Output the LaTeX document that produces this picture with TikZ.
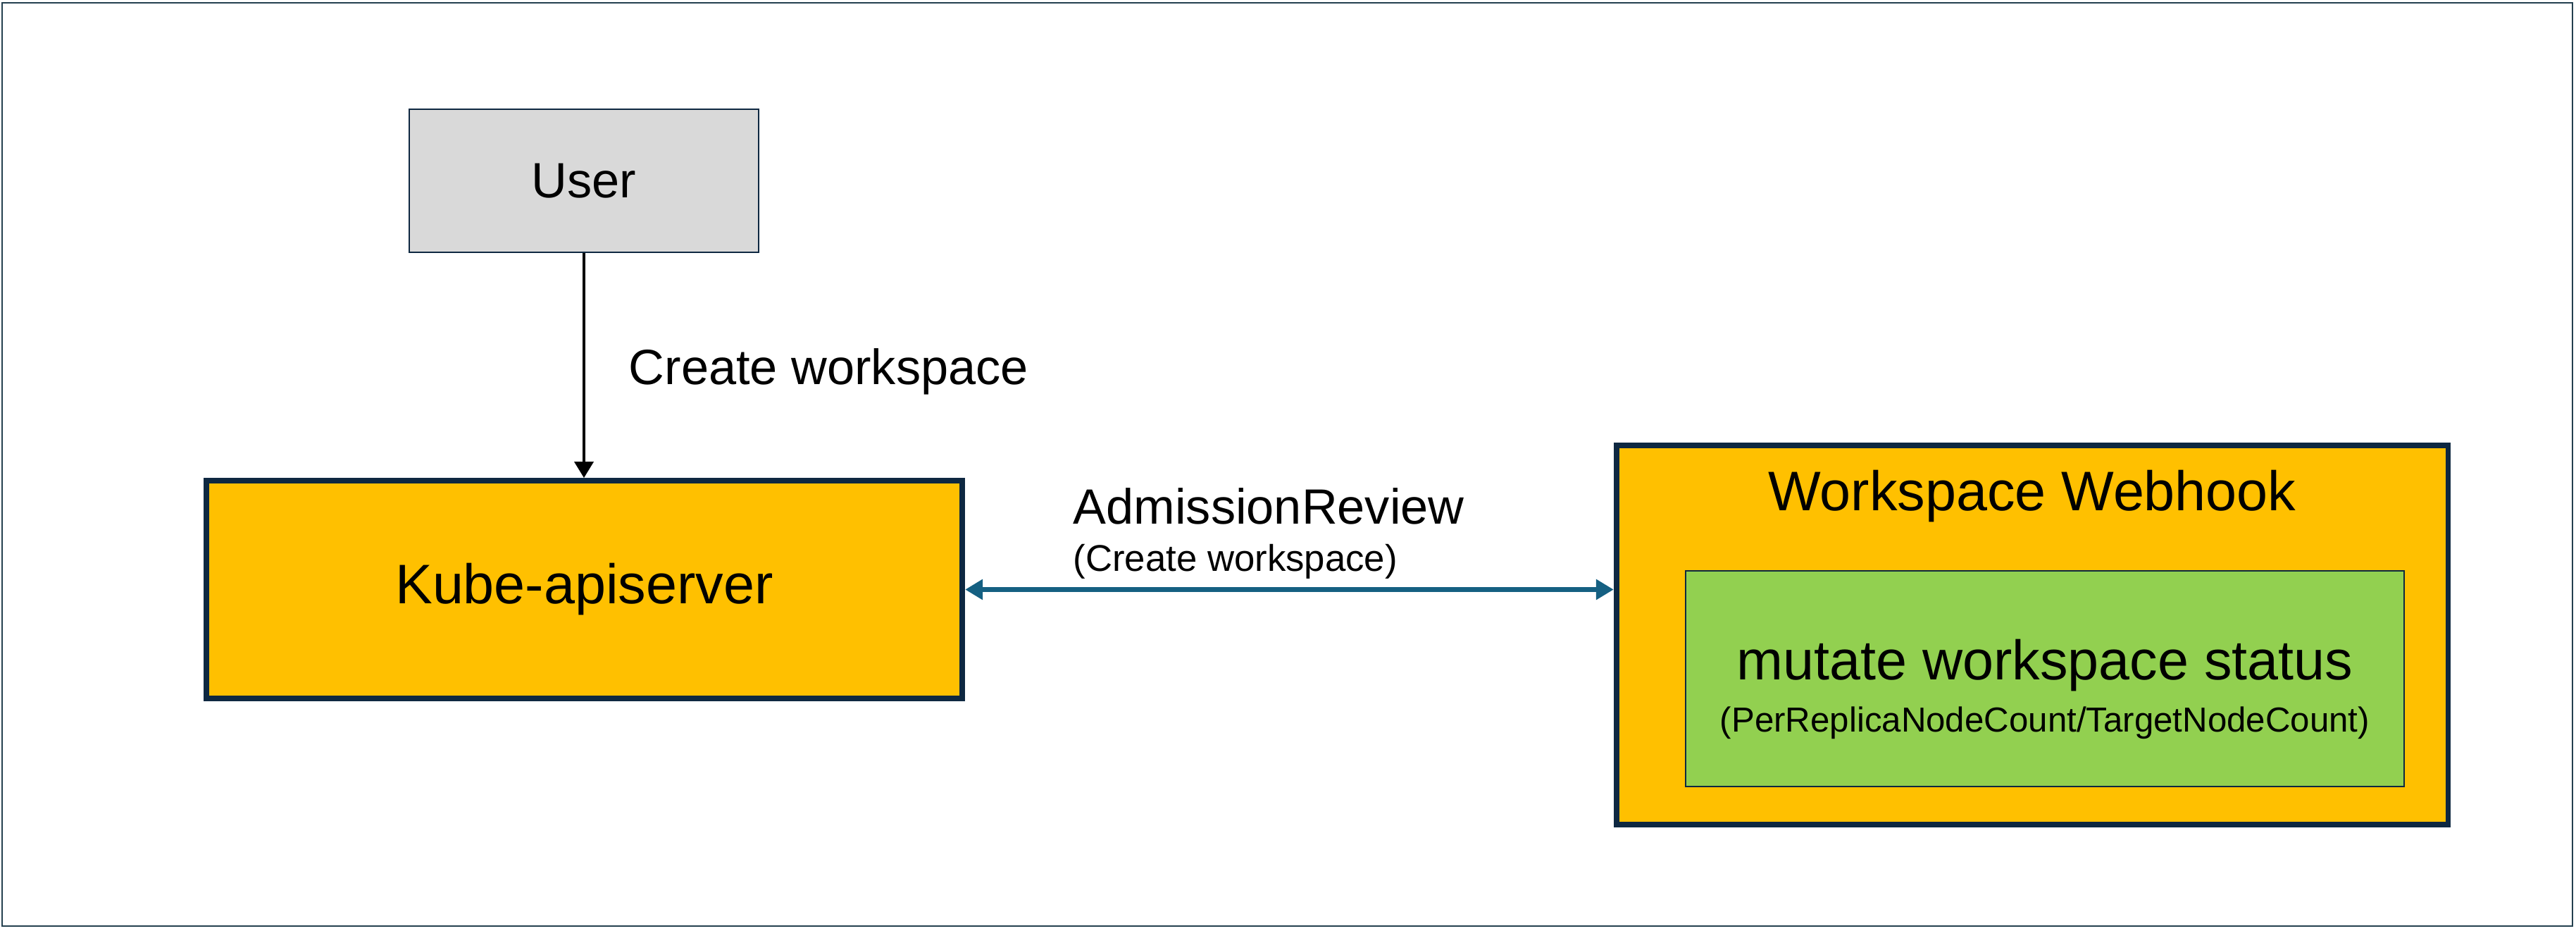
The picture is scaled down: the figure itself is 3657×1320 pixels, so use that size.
\documentclass[tikz,border=0pt]{standalone}
\usepackage{fontspec}
\setmainfont{Liberation Sans}
\usetikzlibrary{arrows.meta,positioning}
\definecolor{boxline}{HTML}{0E2841}
\definecolor{frameline}{HTML}{24404F}
\definecolor{kubeorange}{HTML}{FFC000}
\definecolor{usergray}{HTML}{D9D9D9}
\definecolor{mutgreen}{HTML}{92D050}
\definecolor{reviewblue}{HTML}{156082}
\begin{document}
\begin{tikzpicture}[x=0.01cm,y=-0.01cm,
    bigtext/.style={font=\fontsize{22.5}{27}\selectfont},
    midtext/.style={font=\fontsize{20}{24}\selectfont},
    smalltext/.style={font=\fontsize{15}{18}\selectfont},
    plain/.style={inner sep=0pt},
    userbox/.style={draw=boxline,line width=0.6pt,fill=usergray,inner sep=0pt,
      minimum width=4.96cm,minimum height=2.03cm,midtext},
    apibox/.style={draw=boxline,line width=2.2pt,fill=kubeorange,inner sep=0pt,bigtext},
    mutbox/.style={draw=boxline,line width=0.6pt,fill=mutgreen,inner sep=0pt,
      minimum width=10.2cm,minimum height=3.06cm}]
  \useasboundingbox (0,0) rectangle (3657,1320);
  \draw[frameline,line width=0.6pt] (3,4) rectangle (3652,1314);

  \node[userbox] (user) at (829,256.5) {User};
  \node[apibox,minimum width=10.73cm,minimum height=3.09cm] (kube) at (829.5,836.5)
    {\raisebox{-0.08cm}{Kube-apiserver}};
  \node[apibox,minimum width=11.8cm,minimum height=5.38cm] (hook) at (2885,901) {};
  \node[bigtext,plain] (hooktitle) at (2885,704) {Workspace Webhook};
  \node[mutbox] (mutate) at (2903,963) {};
  \node[bigtext,plain,align=center] (mutatetext) at (2903,978) {mutate workspace status\\[-6pt]
    {\fontsize{14}{17}\selectfont (PerReplicaNodeCount/TargetNodeCount)}};

  \draw[line width=1.1pt,-{Triangle[length=0.23cm,width=0.27cm]}]
    (user.south) -- node[midway,right=0.62cm,yshift=-0.09cm,midtext,plain] (create) {Create workspace}
    (user.south |- kube.north);

  \draw[reviewblue,line width=2pt,
    {Triangle[length=0.25cm,width=0.28cm]}-{Triangle[length=0.25cm,width=0.28cm]}]
    (kube.east) -- (kube.east -| hook.west);
  \node[midtext,plain,anchor=west] (admission) at (1523,718) {AdmissionReview};
  \node[smalltext,plain,anchor=west] (admissionsub) at (1523,797) {(Create workspace)};
\end{tikzpicture}
\end{document}
